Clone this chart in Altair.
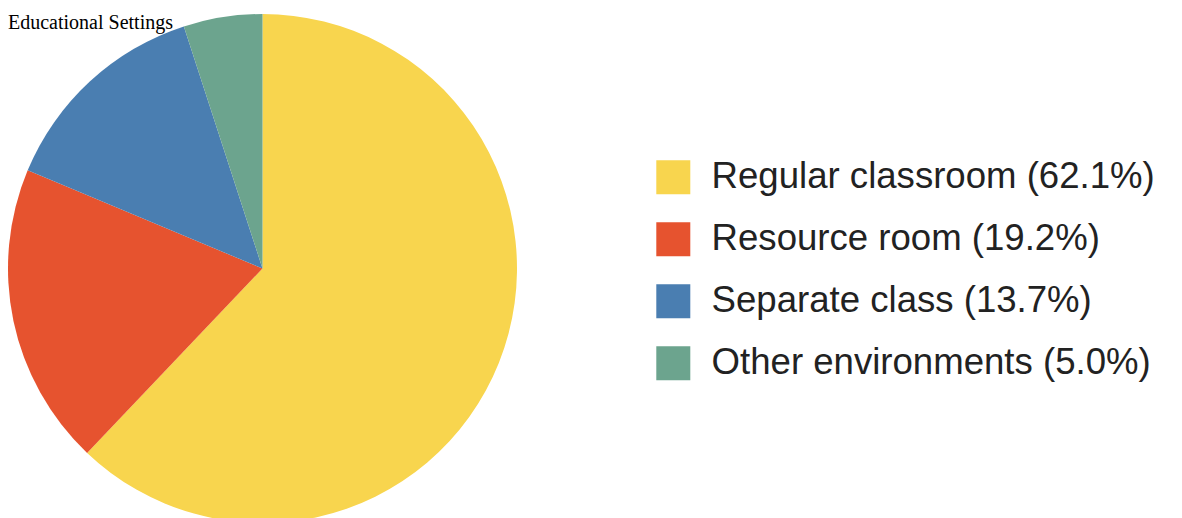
import altair as alt
import pandas as pd

categories = ["Regular classroom", "Resource room", "Separate class", "Other environments"]
percents = [62.1, 19.2, 13.7, 5.0]
colors = ["#F8D54E", "#E6532F", "#4A7EB1", "#6CA48E"]

labels = [f"{c} ({p:.1f}%)" for c, p in zip(categories, percents)]
df = pd.DataFrame({"label": labels, "value": percents, "order": list(range(len(labels)))})

pie = alt.Chart(df).mark_arc(outerRadius=254.5, stroke=None).encode(
    theta=alt.Theta("value:Q", stack=True),
    order=alt.Order("order:Q"),
    x=alt.value(254.5),
    y=alt.value(260.5),
    color=alt.Color(
        "label:N",
        sort=labels,
        scale=alt.Scale(domain=labels, range=colors),
        legend=alt.Legend(
            title=None,
            orient="none",
            legendX=647,
            legendY=151,
            symbolType="square",
            symbolSize=1156,
            symbolStrokeWidth=0,
            labelFontSize=36.6,
            labelFont="Liberation Sans",
            labelColor="#222222",
            labelOffset=20,
            labelLimit=600,
            rowPadding=25,
            padding=0,
        ),
    ),
)

chart = pie.properties(
    width=1166,
    height=510,
    autosize=alt.AutoSizeParams(type="none"),
    padding=0,
    title=alt.TitleParams(
        "Educational Settings",
        anchor="start",
        frame="group",
        font="Liberation Serif",
        fontSize=20,
        fontWeight="normal",
        color="#000000",
        baseline="alphabetic",
        offset=0,
        dy=41,
    ),
).configure_view(stroke=None)

chart.save("out.html", embed_options={"renderer": "svg", "actions": False})
